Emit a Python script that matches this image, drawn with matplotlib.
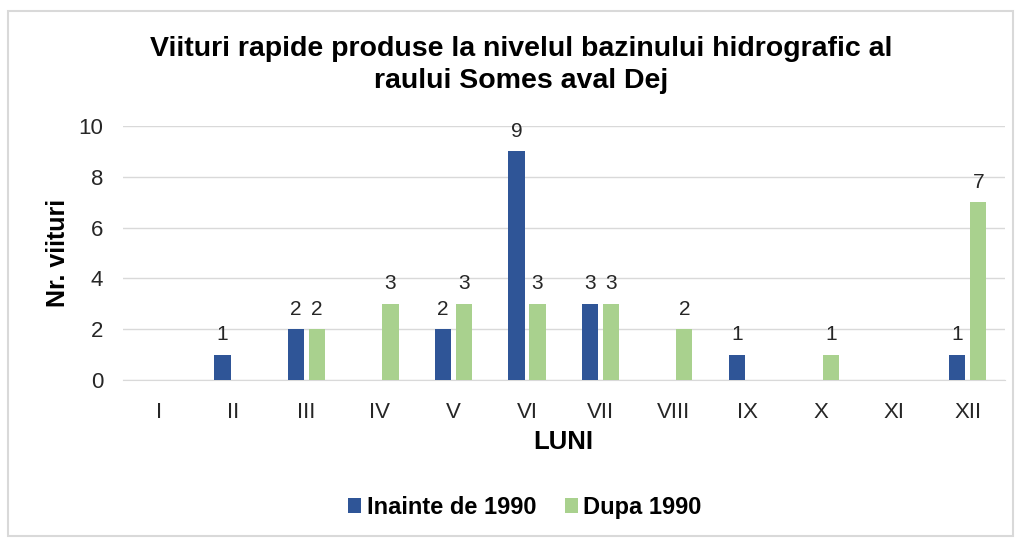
import numpy as np
import matplotlib.pyplot as plt

plt.rcParams['font.family'] = ['Liberation Sans', 'DejaVu Sans']

luni = ['I', 'II', 'III', 'IV', 'V', 'VI', 'VII', 'VIII', 'IX', 'X', 'XI', 'XII']
inainte = [0, 1, 2, 0, 2, 9, 3, 0, 1, 0, 0, 1]
dupa = [0, 0, 2, 3, 3, 3, 3, 2, 0, 1, 0, 7]

albastru = '#2F5597'
verde = '#A9D18E'

fig = plt.figure(figsize=(10.23, 5.38), dpi=100)
ax = fig.add_axes([0.120, 0.2937, 0.862, 0.472])

x = np.arange(len(luni))
w = 0.22
off = 0.143
b1 = ax.bar(x - off, inainte, w, color=albastru, label='Inainte de 1990', zorder=3)
b2 = ax.bar(x + off, dupa, w, color=verde, label='Dupa 1990', zorder=3)

# etichete doar pentru valorile nenule
for bars, vals in ((b1, inainte), (b2, dupa)):
    for b, v in zip(bars, vals):
        if v > 0:
            ax.text(b.get_x() + b.get_width() / 2, v + 0.42, str(v),
                    ha='center', va='bottom', fontsize=15, color='#262626')

ax.set_xlim(-0.5, len(luni) - 0.5)
ax.set_ylim(0, 10)
ax.set_yticks(range(0, 11, 2))
ax.set_xticks(x)
ax.set_xticklabels(luni)
ax.tick_params(axis='both', length=0, labelsize=16, colors='#262626')
ax.tick_params(axis='x', pad=16)
ax.tick_params(axis='y', pad=14)
ax.yaxis.grid(True, color='#D9D9D9', linewidth=1, zorder=0)
for s in ['top', 'right', 'left']:
    ax.spines[s].set_visible(False)
ax.spines['bottom'].set_color('#D9D9D9')

ax.set_xlabel('LUNI', fontsize=18.5, fontweight='bold', labelpad=5)
ax.set_ylabel('Nr. viituri', fontsize=18, fontweight='bold', labelpad=6)

fig.text(0.509, 0.88, 'Viituri rapide produse la nivelul bazinului hidrografic al\nraului Somes aval Dej',
         ha='center', va='center', fontsize=20.5, fontweight='bold', linespacing=1.3)

fig.legend(handles=[b1, b2], loc='center', bbox_to_anchor=(0.513, 0.057), ncol=2,
           frameon=False, prop={'weight': 'bold', 'size': 17},
           handlelength=0.55, handleheight=0.55, handletextpad=0.25, columnspacing=1.2)

# chenarul graficului
fig.patches.append(plt.Rectangle((0.008, 0.004), 0.982, 0.976, transform=fig.transFigure,
                                 fill=False, edgecolor='#D9D9D9', linewidth=1.5))

fig.savefig('out.png', dpi=100)
